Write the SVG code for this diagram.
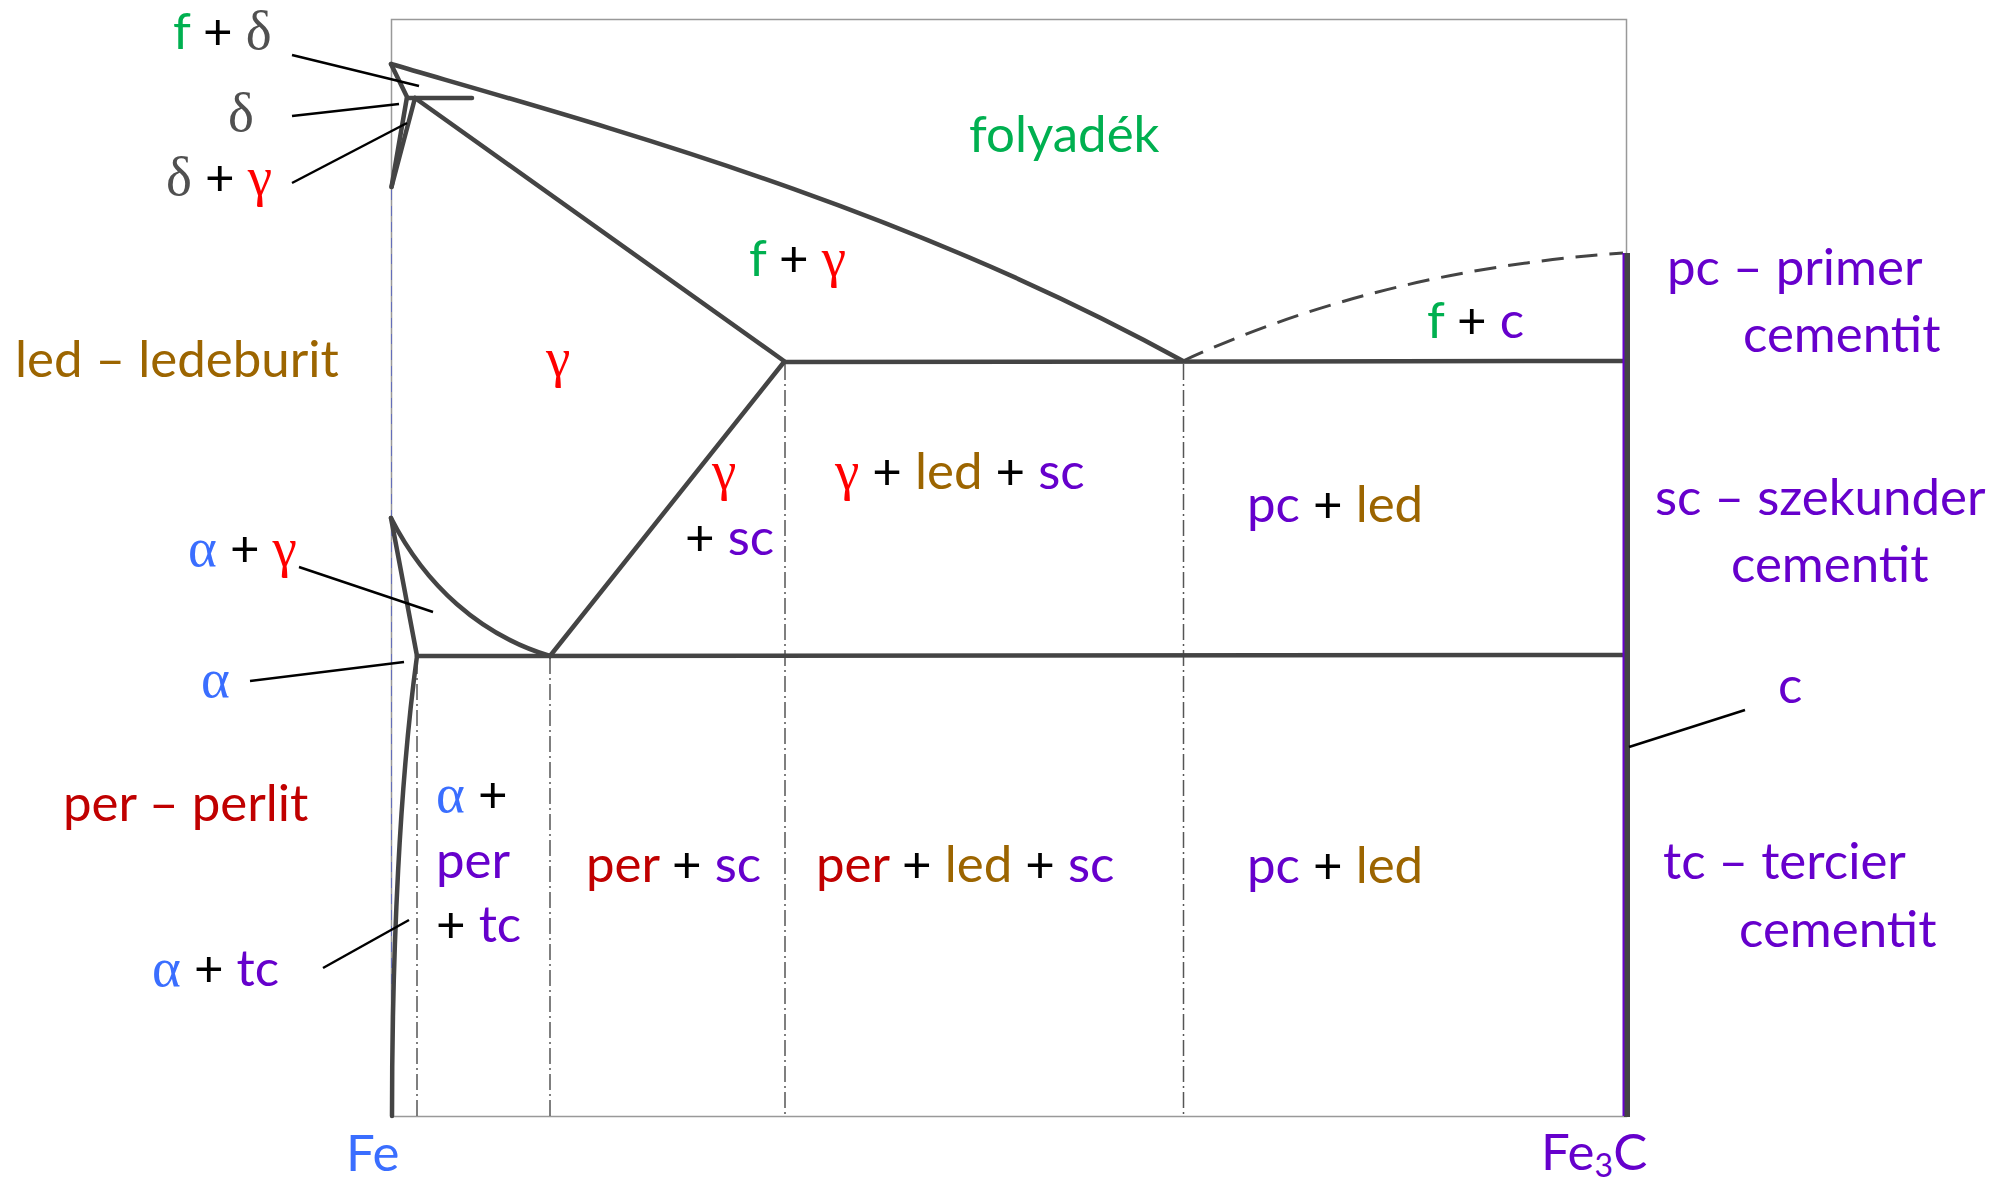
<svg xmlns="http://www.w3.org/2000/svg" width="2004" height="1185" viewBox="0 0 2004 1185">
<style>
text{font-family:Lato,"Open Sans","Liberation Sans",sans-serif;font-size:51px}
.gk{font-family:"Liberation Serif",serif;font-size:55px}
.g{fill:#00B050}.k{fill:#000}.r{fill:#FF0000}.dr{fill:#C00000}.br{fill:#9C6500}.p{fill:#6600CC}.b{fill:#3A6EFF}.gy{fill:#505050}
.bd{fill:none;stroke:#444;stroke-width:4.5;stroke-linejoin:round;stroke-linecap:round}
.dd{fill:none;stroke:#555;stroke-width:1.5;stroke-dasharray:16 4 2 4}
.ld{fill:none;stroke:#000;stroke-width:2.5}
</style>
<rect width="2004" height="1185" fill="#fff"/>
<g id="frame">
<rect x="391.5" y="19.5" width="1235" height="1097" fill="none" stroke="#999" stroke-width="1.5"/>
<line x1="391.5" y1="190" x2="391.5" y2="1100" stroke="#4050d0" stroke-width="1" stroke-dasharray="10 6" opacity="0.6"/>
</g>
<g id="guides">
<line class="dd" x1="417" y1="658" x2="417" y2="1116"/>
<line class="dd" x1="550" y1="658" x2="550" y2="1116"/>
<line class="dd" x1="785" y1="364" x2="785" y2="1116"/>
<line class="dd" x1="1183.5" y1="364" x2="1183.5" y2="1116"/>
</g>
<g id="boundaries">
<path class="bd" d="M391,64 C600,125 900,205 1183,361"/>
<path class="bd" d="M391,64 L407,97 L391.5,187"/>
<path class="bd" d="M407,98 L472,98"/>
<path class="bd" d="M415,98 L391.5,187"/>
<path class="bd" d="M415,98 L784,361"/>
<path class="bd" d="M784,362 L1625,361"/>
<path fill="none" stroke="#444" stroke-width="3" stroke-dasharray="22 12" d="M1183,361 Q1380,270 1623,253"/>
<path class="bd" d="M417,656 L1625,655"/>
<path class="bd" d="M391,518 L417,656"/>
<path class="bd" d="M391,518 C425,585 480,635 550,656"/>
<path class="bd" d="M550,656 L784,362"/>
<path class="bd" d="M417,656 C400,780 392,950 392,1116"/>
<line x1="1627" y1="253" x2="1627" y2="1117" stroke="#444" stroke-width="6"/>
<line x1="1623.5" y1="253" x2="1623.5" y2="1116" stroke="#6600CC" stroke-width="2"/>
</g>
<g id="connectors">
<line class="ld" x1="292" y1="55" x2="419" y2="86"/>
<line class="ld" x1="292" y1="116" x2="399" y2="104"/>
<line class="ld" x1="292" y1="183" x2="407" y2="123"/>
<line class="ld" x1="299" y1="567" x2="433" y2="612"/>
<line class="ld" x1="250" y1="681" x2="404" y2="662"/>
<line class="ld" x1="323" y1="968" x2="409" y2="920"/>
<line class="ld" x1="1745" y1="710" x2="1629" y2="747"/>
</g>
<g id="label-f-delta"><text x="173" y="49"><tspan class="g">f</tspan><tspan class="k"> + </tspan><tspan class="gk gy">δ</tspan></text></g>
<g id="label-delta"><text class="gk gy" x="228" y="131">δ</text></g>
<g id="label-delta-gamma"><text x="166" y="195"><tspan class="gk gy">δ</tspan><tspan class="k"> + </tspan><tspan class="gk r">γ</tspan></text></g>
<g id="label-folyadek"><text class="g" x="969" y="152">folyadék</text></g>
<g id="label-f-gamma"><text x="749" y="276"><tspan class="g">f</tspan><tspan class="k"> + </tspan><tspan class="gk r">γ</tspan></text></g>
<g id="label-gamma"><text class="gk r" x="546" y="376">γ</text></g>
<g id="label-f-c"><text x="1427" y="338"><tspan class="g">f</tspan><tspan class="k"> + </tspan><tspan class="p">c</tspan></text></g>
<g id="label-led"><text class="br" x="15" y="377">led – ledeburit</text></g>
<g id="label-gamma-sc"><text class="gk r" x="712" y="489">γ</text><text x="685" y="555"><tspan class="k">+ </tspan><tspan class="p">sc</tspan></text></g>
<g id="label-gamma-led-sc"><text x="835" y="489"><tspan class="gk r">γ</tspan><tspan class="k"> + </tspan><tspan class="br">led</tspan><tspan class="k"> + </tspan><tspan class="p">sc</tspan></text></g>
<g id="label-pc-led-1"><text x="1247" y="522"><tspan class="p">pc</tspan><tspan class="k"> + </tspan><tspan class="br">led</tspan></text></g>
<g id="label-alpha-gamma"><text x="188" y="566"><tspan class="gk b">α</tspan><tspan class="k"> + </tspan><tspan class="gk r">γ</tspan></text></g>
<g id="label-alpha"><text class="gk b" x="201" y="697">α</text></g>
<g id="label-per"><text class="dr" x="63" y="821">per – perlit</text></g>
<g id="label-alpha-per-tc"><text x="436" y="812"><tspan class="gk b">α</tspan><tspan class="k"> +</tspan></text><text class="p" x="436" y="878">per</text><text x="436" y="942"><tspan class="k">+ </tspan><tspan class="p">tc</tspan></text></g>
<g id="label-alpha-tc"><text x="152" y="986"><tspan class="gk b">α</tspan><tspan class="k"> + </tspan><tspan class="p">tc</tspan></text></g>
<g id="label-per-sc"><text x="586" y="882"><tspan class="dr">per</tspan><tspan class="k"> + </tspan><tspan class="p">sc</tspan></text></g>
<g id="label-per-led-sc"><text x="816" y="882"><tspan class="dr">per</tspan><tspan class="k"> + </tspan><tspan class="br">led</tspan><tspan class="k"> + </tspan><tspan class="p">sc</tspan></text></g>
<g id="label-pc-led-2"><text x="1247" y="883"><tspan class="p">pc</tspan><tspan class="k"> + </tspan><tspan class="br">led</tspan></text></g>
<g id="label-pc"><text class="p" x="1667" y="285">pc – primer</text><text class="p" x="1743" y="352">cementit</text></g>
<g id="label-sc"><text class="p" x="1655" y="515">sc – szekunder</text><text class="p" x="1731" y="582">cementit</text></g>
<g id="label-c"><text class="p" x="1778" y="703">c</text></g>
<g id="label-tc"><text class="p" x="1663" y="879">tc – tercier</text><text class="p" x="1739" y="947">cementit</text></g>
<g id="label-fe"><text class="b" x="346" y="1171">Fe</text></g>
<g id="label-fe3c"><text class="p" x="1541" y="1170" font-size="49">Fe<tspan font-size="32" dy="7">3</tspan><tspan dy="-7">C</tspan></text></g>
</svg>
